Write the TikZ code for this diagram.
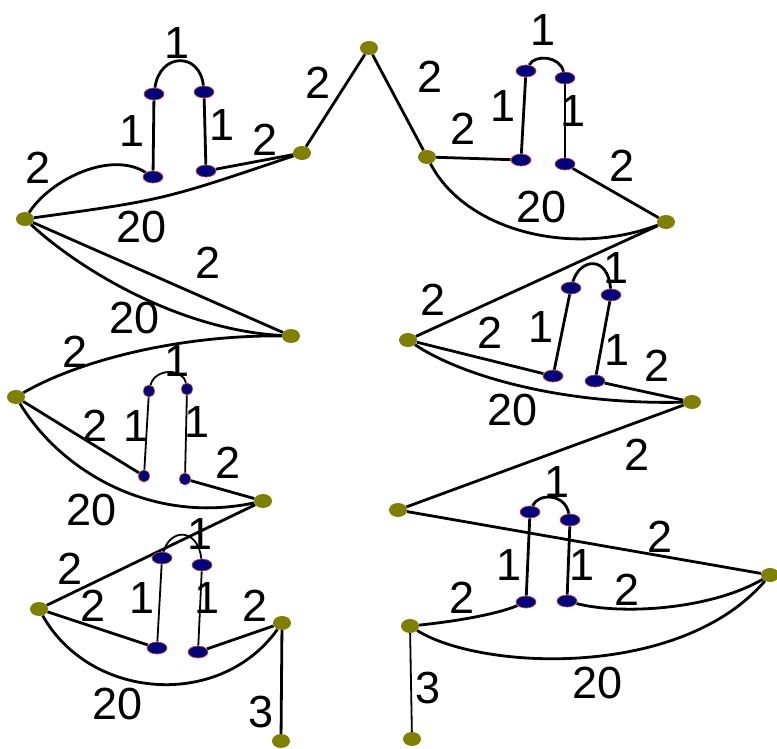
\documentclass[tikz,border=0pt]{standalone}
\usepackage{fontspec}
\setmainfont{Liberation Sans}
\usetikzlibrary{shapes.geometric,backgrounds}
\definecolor{olivec}{HTML}{808000}
\definecolor{navyc}{HTML}{000080}
\definecolor{rimc}{HTML}{C0501F}
\begin{document}
\begin{tikzpicture}[x=1pt,y=-1pt,
  onode/.style={ellipse,fill=olivec,draw=none,minimum width=18pt,minimum height=14pt,inner sep=0pt},
  bnode/.style={ellipse,fill=navyc,draw=rimc,line width=0.7pt,minimum width=20pt,minimum height=12pt,inner sep=0pt},
  bsmall/.style={ellipse,fill=navyc,draw=rimc,line width=0.7pt,minimum width=11pt,minimum height=12pt,inner sep=0pt},
  wlab/.style={inner sep=0pt,font=\fontsize{45}{45}\selectfont},
  thick edge/.style={draw=black,line width=2.8pt},
  thin edge/.style={draw=black,line width=1.8pt}]
\useasboundingbox (0,0) rectangle (777,749);
% olive nodes
\node[onode] (T) at (369,48) {};
\node[onode] (A1) at (302,153) {};
\node[onode] (A2) at (25,219) {};
\node[onode] (A3) at (291,336) {};
\node[onode] (A4) at (16,397) {};
\node[onode] (A5) at (263,501) {};
\node[onode] (A6) at (39,609) {};
\node[onode] (A7) at (282,623) {};
\node[onode] (A8) at (281,741) {};
\node[onode] (B1) at (427,157) {};
\node[onode] (B2) at (666,222) {};
\node[onode] (B3) at (408,340) {};
\node[onode] (B4) at (692,402) {};
\node[onode] (B5) at (398,510) {};
\node[onode] (B6) at (770,575) {};
\node[onode] (B7) at (410,626) {};
\node[onode] (B8) at (412,739) {};
% blue nodes
\node[bnode] (P1a) at (154,94) {};
\node[bnode] (P1b) at (204,92) {};
\node[bnode] (P1c) at (153,177) {};
\node[bnode] (P1d) at (206,171) {};
\node[bsmall] (P2a) at (149,391) {};
\node[bsmall] (P2b) at (187,389) {};
\node[bsmall] (P2c) at (144,476) {};
\node[bsmall] (P2d) at (185,479) {};
\node[bnode] (P3a) at (162,558) {};
\node[bnode] (P3b) at (202,565) {};
\node[bnode] (P3c) at (157,648) {};
\node[bnode] (P3d) at (198,652) {};
\node[bnode] (Q1a) at (526,71) {};
\node[bnode] (Q1b) at (565,78) {};
\node[bnode] (Q1c) at (521,160) {};
\node[bnode] (Q1d) at (565,164) {};
\node[bnode] (Q2a) at (571,288) {};
\node[bnode] (Q2b) at (611,295) {};
\node[bnode] (Q2c) at (553,376) {};
\node[bnode] (Q2d) at (595,381) {};
\node[bnode] (Q3a) at (530,512) {};
\node[bnode] (Q3b) at (570,520) {};
\node[bnode] (Q3c) at (526,602) {};
\node[bnode] (Q3d) at (567,601) {};
\begin{scope}[on background layer]
% group 1
\draw[thick edge] (T) -- (A1);
\draw[thick edge] (A1) -- (P1d);
\draw[thick edge] (A2) .. controls (163,200) .. (A1);
\draw[thick edge] (A2) .. controls (50,180) and (110,150) .. (P1c);
\draw[thick edge] (P1a) -- (P1c);
\draw[thick edge] (P1b) -- (P1d);
\draw[thick edge] (P1a) .. controls (160,52) and (200,52) .. (P1b);
\draw[thick edge] (A2) -- (A3);
\draw[thick edge] (A2) .. controls (80,270) and (180,330) .. (A3);
% group 2
\draw[thick edge] (A4) .. controls (80,360) and (180,335) .. (A3);
\draw[thin edge] (P2a) .. controls (155,368) and (183,368) .. (P2b);
\draw[thin edge] (P2a) -- (P2c);
\draw[thin edge] (P2b) -- (P2d);
\draw[thick edge] (A4) -- (P2c);
\draw[thick edge] (A4) .. controls (60,470) and (150,525) .. (A5);
\draw[thick edge] (P2d) -- (A5);
% group 3
\draw[thick edge] (A5) -- (A6);
\draw[thin edge] (P3a) .. controls (170,528) and (198,528) .. (P3b);
\draw[thin edge] (P3a) -- (P3c);
\draw[thin edge] (P3b) -- (P3d);
\draw[thick edge] (A6) -- (P3c);
\draw[thick edge] (P3d) -- (A7);
\draw[thick edge] (A6) .. controls (90,700) and (220,710) .. (A7);
\draw[thick edge] (A7) -- (A8);
% group 4
\draw[thick edge] (T) -- (B1);
\draw[thick edge] (B1) -- (Q1c);
\draw[thick edge] (Q1a) .. controls (535,54) and (560,56) .. (Q1b);
\draw[thick edge] (Q1a) -- (Q1c);
\draw[thick edge] (Q1b) -- (Q1d);
\draw[thick edge] (Q1d) -- (B2);
\draw[thick edge] (B1) .. controls (465,230) and (570,258) .. (B2);
% group 5
\draw[thick edge] (B2) -- (B3);
\draw[thick edge] (B3) -- (Q2c);
\draw[thick edge] (Q2a) .. controls (580,258) and (608,255) .. (Q2b);
\draw[thick edge] (Q2a) -- (Q2c);
\draw[thick edge] (Q2b) -- (Q2d);
\draw[thick edge] (Q2d) -- (B4);
\draw[thick edge] (B3) .. controls (460,375) and (560,405) .. (B4);
\draw[thick edge] (B4) -- (B5);
% group 6
\draw[thick edge] (B5) -- (B6);
\draw[thick edge] (Q3a) .. controls (538,493) and (565,493) .. (Q3b);
\draw[thick edge] (Q3a) -- (Q3c);
\draw[thick edge] (Q3b) -- (Q3d);
\draw[thick edge] (B7) .. controls (450,622) and (495,615) .. (Q3c);
\draw[thick edge] (Q3d) .. controls (620,615) and (710,610) .. (B6);
\draw[thick edge] (B7) .. controls (480,670) and (680,680) .. (B6);
\draw[thin edge] (B7) -- (B8);
\end{scope}
% labels group 1
\node[wlab] (l1) at (177,43) {1};
\node[wlab] (l2) at (132,131) {1};
\node[wlab] (l3) at (222,125) {1};
\node[wlab] (l4) at (265,140) {2};
\node[wlab] (l5) at (318,83) {2};
\node[wlab] (l6) at (38,168) {2};
\node[wlab] (l7) at (142,227) {20};
\node[wlab] (l8) at (208,263) {2};
\node[wlab] (l9) at (135,318) {20};
% labels group 2
\node[wlab] (l10) at (75,352) {2};
\node[wlab] (l11) at (177,361) {1};
\node[wlab] (l12) at (95,426) {2};
\node[wlab] (l13) at (136,426) {1};
\node[wlab] (l14) at (197,422) {1};
\node[wlab] (l15) at (228,463) {2};
\node[wlab] (l16) at (92,510) {20};
% labels group 3
\node[wlab] (l17) at (70,569) {2};
\node[wlab] (l18) at (200,534) {1};
\node[wlab] (l19) at (93,606) {2};
\node[wlab] (l20) at (142,598) {1};
\node[wlab] (l21) at (207,598) {1};
\node[wlab] (l22) at (255,606) {2};
\node[wlab] (l23) at (118,704) {20};
\node[wlab] (l24) at (261,712) {3};
% labels group 4
\node[wlab] (l25) at (430,77) {2};
\node[wlab] (l26) at (543,30) {1};
\node[wlab] (l27) at (463,129) {2};
\node[wlab] (l28) at (503,106) {1};
\node[wlab] (l29) at (573,111) {1};
\node[wlab] (l30) at (622,166) {2};
\node[wlab] (l31) at (542,207) {20};
% labels group 5
\node[wlab] (l32) at (433,300) {2};
\node[wlab] (l33) at (490,333) {2};
\node[wlab] (l34) at (541,327) {1};
\node[wlab] (l35) at (616,268) {1};
\node[wlab] (l36) at (617,350) {1};
\node[wlab] (l37) at (657,366) {2};
\node[wlab] (l38) at (513,410) {20};
\node[wlab] (l39) at (637,455) {2};
% labels group 6
\node[wlab] (l40) at (557,482) {1};
\node[wlab] (l41) at (660,537) {2};
\node[wlab] (l42) at (509,565) {1};
\node[wlab] (l43) at (582,565) {1};
\node[wlab] (l44) at (462,598) {2};
\node[wlab] (l45) at (627,590) {2};
\node[wlab] (l46) at (598,683) {20};
\node[wlab] (l47) at (428,688) {3};
\end{tikzpicture}
\end{document}
